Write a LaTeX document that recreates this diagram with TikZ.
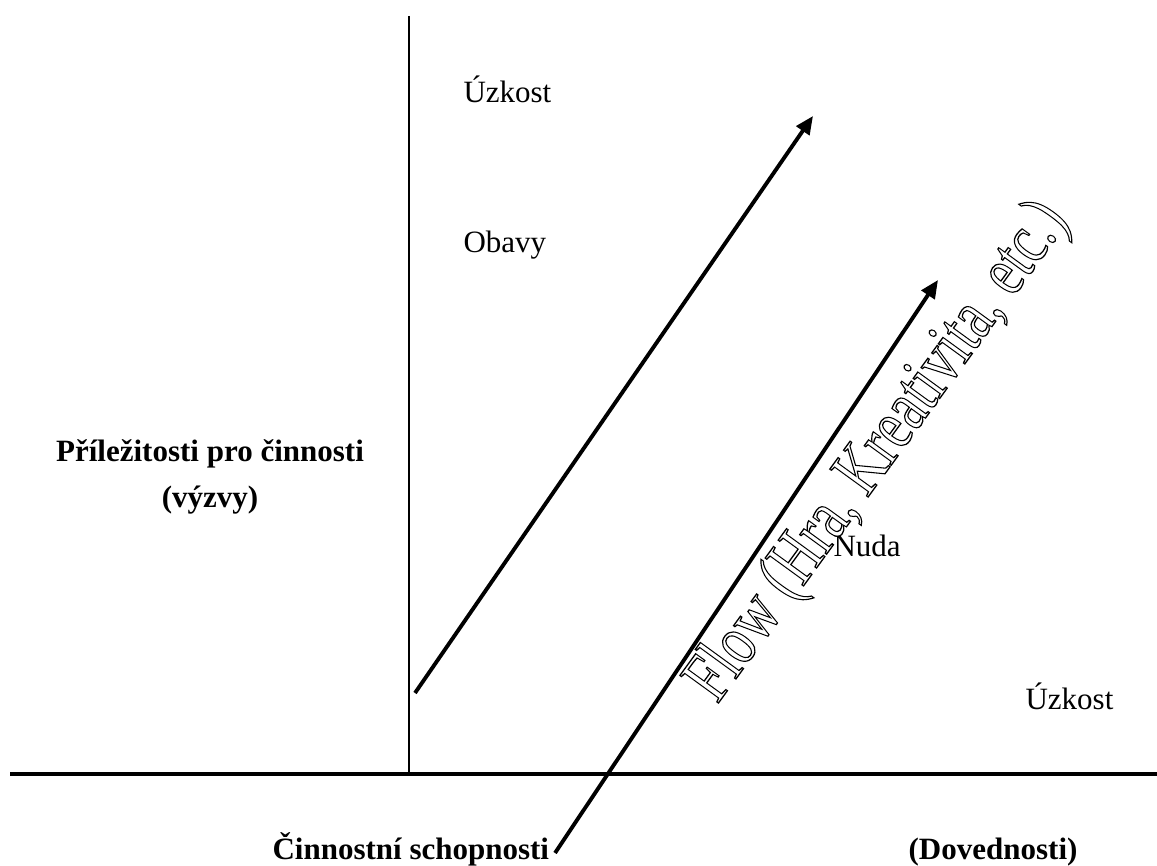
\documentclass[tikz,border=0pt]{standalone}
\usepackage{fontspec}
\setmainfont{Liberation Serif}
\usetikzlibrary{arrows.meta}
\newcommand{\outl}[1]{\special{pdf:literal direct 1 Tr 0.5 w}#1\special{pdf:literal direct 0 Tr}}
\tikzstyle{axis}=[line width=1.5pt]
\tikzstyle{flow}=[line width=1.5pt, -{Triangle[length=7pt, width=6pt]}]
\tikzstyle{label}=[inner sep=0pt, font=\fontsize{12}{14}\selectfont]
\tikzstyle{title}=[inner sep=0pt, font=\fontsize{12}{14}\selectfont\bfseries]
\begin{document}
\begin{tikzpicture}[x=0.387pt, y=-0.387pt]
                \useasboundingbox (0,0) rectangle (1157,866);
                \coordinate (ytop) at (409, 16);
                \coordinate (o) at (409, 774);
                \coordinate (xl) at (10, 774);
                \coordinate (xr) at (1157, 774);
                \coordinate (a1s) at (415, 693);
                \coordinate (a1e) at (813, 116);
                \coordinate (a2s) at (555, 853);
                \coordinate (a2e) at (938, 280);
                \node[label, anchor=base west] (uz1) at (463, 103) {Úzkost};
                \node[label, anchor=base west] (ob) at (463, 253) {Obavy};
                \node[label, anchor=base west] (nu) at (833, 557) {Nuda};
                \node[label, anchor=base west] (uz2) at (1025, 710) {Úzkost};
                \node[title, anchor=base] (pr) at (210, 462) {Příležitosti pro činnosti};
                \node[title, anchor=base] (vy) at (210, 508) {(výzvy)};
                \node[title, anchor=base west] (cs) at (272, 860) {Činnostní schopnosti};
                \node[title, anchor=base east] (dv) at (1078, 860) {(Dovednosti)};
                \node[inner sep=0pt, anchor=base west, rotate=54, xscale=0.76,
                      font=\fontsize{28}{30}\selectfont] (fl) at (717, 705)
                      {\outl{Flow (Hra, Kreativita, etc.)}};
                \draw[line width=1pt] (ytop) -- (o);
                \draw[axis] (xl) -- (xr);
                \draw[flow] (a1s) -- (a1e);
                \draw[flow] (a2s) -- (a2e);
\end{tikzpicture}
\end{document}
